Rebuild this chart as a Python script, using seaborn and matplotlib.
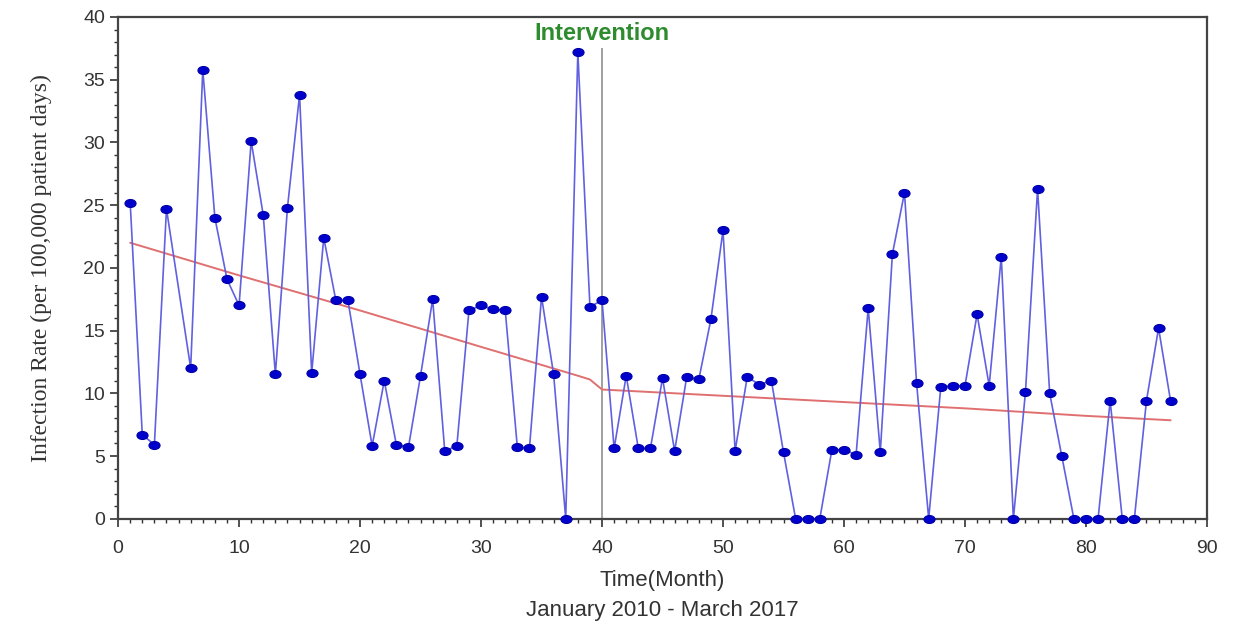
import numpy as np
import pandas as pd
import seaborn as sns
import matplotlib.pyplot as plt
from matplotlib.ticker import MultipleLocator
from matplotlib.path import Path
from matplotlib.transforms import Affine2D

# --- data (month 5 has no point) ---
months = [1, 2, 3, 4, 6, 7, 8, 9, 10,
          11, 12, 13, 14, 15, 16, 17, 18, 19, 20,
          21, 22, 23, 24, 25, 26, 27, 28, 29, 30,
          31, 32, 33, 34, 35, 36, 37, 38, 39, 40,
          41, 42, 43, 44, 45, 46, 47, 48, 49, 50,
          51, 52, 53, 54, 55, 56, 57, 58, 59, 60,
          61, 62, 63, 64, 65, 66, 67, 68, 69, 70,
          71, 72, 73, 74, 75, 76, 77, 78, 79, 80,
          81, 82, 83, 84, 85, 86, 87]
rates = [25.2, 6.7, 5.9, 24.7, 12.0, 35.8, 24.0, 19.1, 17.0,
         30.1, 24.2, 11.5, 24.8, 33.8, 11.6, 22.4, 17.4, 17.4, 11.5,
         5.8, 11.0, 5.9, 5.7, 11.4, 17.5, 5.4, 5.8, 16.6, 17.0,
         16.7, 16.6, 5.7, 5.6, 17.7, 11.5, 0.0, 37.2, 16.9, 17.4,
         5.6, 11.4, 5.6, 5.6, 11.2, 5.4, 11.3, 11.1, 15.9, 23.0,
         5.4, 11.3, 10.7, 11.0, 5.3, 0.0, 0.0, 0.0, 5.5, 5.5,
         5.1, 16.8, 5.3, 21.1, 26.0, 10.8, 0.0, 10.5, 10.6, 10.6,
         16.3, 10.6, 20.9, 0.0, 10.1, 26.3, 10.0, 5.0, 0.0, 0.0,
         0.0, 9.4, 0.0, 0.0, 9.4, 15.2, 9.35]

# fitted segmented trend, read at a few months
trend_months = [1, 10, 20, 30, 38, 39, 40, 50, 60, 70, 80, 87]
trend_rates = [22.0, 19.4, 16.6, 13.7, 11.4, 11.1, 10.3, 9.8, 9.3, 8.8, 8.2, 7.85]

intervention_month = 40
intervention_top = 37.5

df = pd.DataFrame({"month": months, "rate": rates})
trend = pd.DataFrame({"month": trend_months, "rate": trend_rates})

sns.set_style("ticks")
plt.rcParams['font.family'] = ['Liberation Sans', 'DejaVu Sans']

# slightly flattened dot, like the original
dot = Path.unit_circle().transformed(Affine2D().scale(1.0, 0.72))

fig = plt.figure(figsize=(12.43, 6.28), dpi=100)
ax = fig.add_axes([0.095, 0.174, 0.876, 0.799])

# trend line
sns.lineplot(data=trend, x="month", y="rate", ax=ax, color="#e07070", linewidth=1.4, zorder=2)

# intervention marker
ax.vlines(intervention_month, 0, intervention_top, color="#999999", linewidth=1.3, zorder=1)
ax.text(intervention_month, 38.7, "Intervention", ha="center", va="center",
        fontsize=17, fontweight="bold", color="#2e8b2e")

# data series
sns.lineplot(data=df, x="month", y="rate", ax=ax, color="#6060e0", linewidth=1.2,
             marker=dot, markersize=8, markerfacecolor="#0000cc",
             markeredgecolor="#0000aa", markeredgewidth=0.8, clip_on=False, zorder=3)

ax.set_xlim(0, 90)
ax.set_ylim(0, 40)
ax.xaxis.set_major_locator(MultipleLocator(10))
ax.xaxis.set_minor_locator(MultipleLocator(1))
ax.yaxis.set_major_locator(MultipleLocator(5))
ax.yaxis.set_minor_locator(MultipleLocator(1))
ax.tick_params(which="major", direction="out", length=6, width=1.2, colors="#333333",
               labelsize=14, labelcolor="#333333")
ax.tick_params(which="minor", direction="out", length=3, width=1, colors="#333333")
ax.tick_params(axis="x", pad=9)

for side in ["left", "right", "top", "bottom"]:
    ax.spines[side].set_color("#444444")
    ax.spines[side].set_linewidth(1.6)

ax.set_xlabel("Time(Month)", fontsize=16, color="#333333", labelpad=10)
ax.set_ylabel("Infection Rate (per 100,000 patient days)", fontsize=17, color="#333333",
              family=["Liberation Serif", "DejaVu Serif"], labelpad=22)
ax.text(0.5, -0.182, "January 2010 - March 2017", transform=ax.transAxes,
        ha="center", va="center", fontsize=16, color="#333333")

fig.savefig("out.png", dpi=100)
